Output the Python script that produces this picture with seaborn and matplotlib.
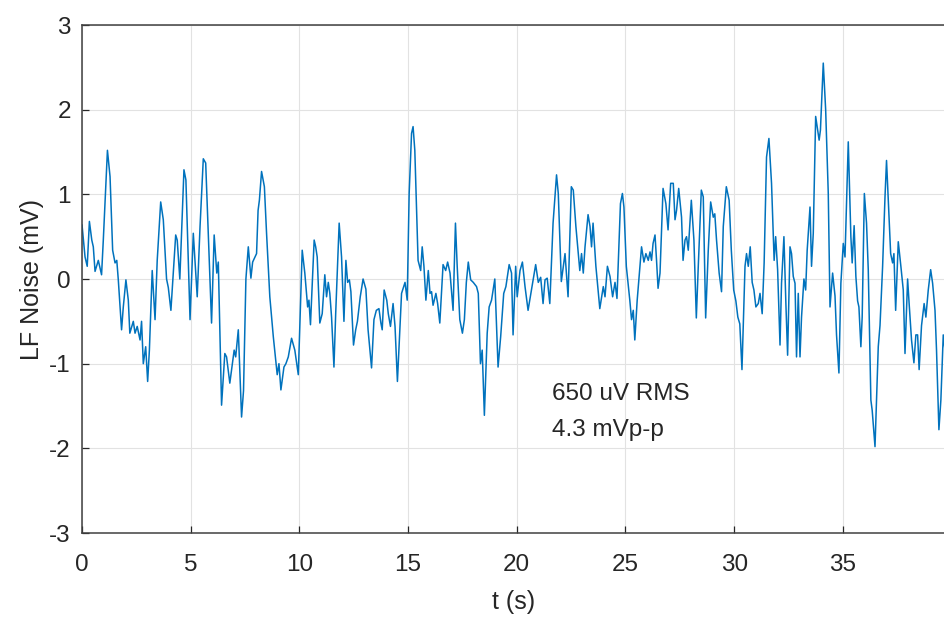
import numpy as np
import pandas as pd
import seaborn as sns
import matplotlib
matplotlib.use("Agg")
import matplotlib.pyplot as plt

# time (s) and low-frequency noise (mV)
t_s = [
    0.00, 0.14, 0.24, 0.34, 0.45, 0.52, 0.60, 0.75, 0.90, 0.98, 1.17, 1.29, 1.41, 1.52, 1.60, 1.67,
    1.82, 1.90, 2.02, 2.13, 2.20, 2.36, 2.44, 2.54, 2.67, 2.74, 2.82, 2.93, 3.02, 3.10, 3.23, 3.36,
    3.46, 3.62, 3.74, 3.89, 3.97, 4.09, 4.31, 4.38, 4.50, 4.69, 4.78, 4.97, 5.12, 5.30, 5.43, 5.58,
    5.69, 5.96, 6.08, 6.20, 6.27, 6.42, 6.57, 6.65, 6.80, 7.00, 7.07, 7.19, 7.34, 7.43, 7.54, 7.65,
    7.77, 7.85, 7.96, 8.03, 8.10, 8.16, 8.26, 8.39, 8.49, 8.64, 8.80, 8.98, 9.06, 9.15, 9.29, 9.38,
    9.49, 9.64, 9.79, 9.95, 10.13, 10.25, 10.38, 10.44, 10.51, 10.68, 10.75, 10.82, 10.94, 11.05,
    11.17, 11.25, 11.33, 11.40, 11.48, 11.59, 11.67, 11.83, 11.94, 12.05, 12.14, 12.22, 12.30,
    12.37, 12.49, 12.59, 12.67, 12.80, 12.93, 13.06, 13.16, 13.32, 13.43, 13.54, 13.66, 13.75,
    13.81, 13.90, 14.02, 14.09, 14.19, 14.31, 14.40, 14.51, 14.70, 14.86, 14.96, 15.05, 15.16,
    15.23, 15.31, 15.46, 15.58, 15.65, 15.73, 15.82, 15.93, 16.01, 16.08, 16.15, 16.28, 16.36,
    16.46, 16.61, 16.73, 16.82, 16.93, 17.07, 17.18, 17.26, 17.38, 17.50, 17.59, 17.68, 17.77,
    17.88, 18.00, 18.15, 18.23, 18.33, 18.41, 18.51, 18.64, 18.73, 18.84, 18.99, 19.14, 19.26,
    19.40, 19.50, 19.65, 19.76, 19.83, 19.95, 20.02, 20.15, 20.26, 20.38, 20.52, 20.68, 20.87,
    20.99, 21.10, 21.21, 21.30, 21.40, 21.52, 21.67, 21.83, 21.91, 22.05, 22.22, 22.36, 22.51,
    22.60, 22.72, 22.90, 22.98, 23.06, 23.14, 23.28, 23.37, 23.44, 23.51, 23.64, 23.82, 23.98,
    24.06, 24.17, 24.29, 24.41, 24.52, 24.61, 24.77, 24.86, 24.93, 25.04, 25.20, 25.28, 25.36,
    25.43, 25.54, 25.67, 25.74, 25.85, 25.94, 26.05, 26.13, 26.20, 26.27, 26.36, 26.43, 26.50,
    26.59, 26.73, 26.86, 26.96, 27.08, 27.20, 27.28, 27.35, 27.45, 27.58, 27.65, 27.74, 27.81,
    27.89, 28.03, 28.15, 28.26, 28.35, 28.49, 28.58, 28.69, 28.81, 28.92, 29.04, 29.11, 29.19,
    29.31, 29.42, 29.50, 29.64, 29.77, 29.87, 29.98, 30.08, 30.17, 30.26, 30.36, 30.50, 30.57,
    30.65, 30.74, 30.83, 30.91, 31.00, 31.11, 31.19, 31.29, 31.38, 31.49, 31.60, 31.72, 31.84,
    31.91, 32.00, 32.11, 32.18, 32.29, 32.38, 32.46, 32.57, 32.64, 32.72, 32.80, 32.87, 32.95,
    33.03, 33.10, 33.21, 33.29, 33.36, 33.49, 33.56, 33.64, 33.75, 33.84, 33.91, 33.97, 34.10,
    34.21, 34.33, 34.41, 34.53, 34.64, 34.71, 34.82, 34.91, 35.02, 35.10, 35.25, 35.37, 35.43,
    35.52, 35.60, 35.68, 35.74, 35.83, 35.89, 35.99, 36.09, 36.17, 36.29, 36.35, 36.48, 36.63,
    36.71, 36.83, 36.94, 37.01, 37.09, 37.20, 37.29, 37.35, 37.43, 37.55, 37.67, 37.78, 37.86,
    37.98, 38.05, 38.16, 38.27, 38.36, 38.44, 38.51, 38.62, 38.74, 38.82, 38.93, 39.04, 39.13,
    39.24, 39.31, 39.42, 39.51, 39.62, 39.70,
]
noise_mv = [
    0.64, 0.26, 0.15, 0.68, 0.46, 0.38, 0.09, 0.22, 0.05, 0.46, 1.52, 1.21, 0.34, 0.19, 0.22, -0.01,
    -0.60, -0.33, -0.01, -0.25, -0.64, -0.50, -0.64, -0.56, -0.72, -0.50, -1.00, -0.80, -1.21, -0.84, 0.10, -0.48,
    0.22, 0.91, 0.70, 0.00, -0.10, -0.37, 0.52, 0.46, 0.00, 1.29, 1.17, -0.48, 0.54, -0.21, 0.62, 1.42,
    1.37, -0.52, 0.52, 0.07, 0.20, -1.49, -0.88, -0.92, -1.23, -0.84, -0.92, -0.60, -1.63, -1.32, 0.00, 0.38,
    0.01, 0.20, 0.26, 0.30, 0.81, 0.93, 1.27, 1.09, 0.54, -0.21, -0.68, -1.13, -1.00, -1.31, -1.04, -1.00,
    -0.92, -0.70, -0.84, -1.13, 0.34, 0.07, -0.33, -0.25, -0.54, 0.46, 0.38, 0.26, -0.52, -0.41,
    0.05, -0.21, -0.04, -0.17, -0.45, -1.04, -0.41, 0.66, 0.26, -0.50, 0.22, -0.04, -0.01,
    -0.15, -0.78, -0.60, -0.50, -0.21, 0.00, -0.12, -0.60, -1.05, -0.48, -0.37, -0.35, -0.52,
    -0.60, -0.13, -0.25, -0.41, -0.56, -0.29, -0.56, -1.21, -0.17, -0.04, -0.25, 1.01, 1.72,
    1.80, 1.52, 0.22, 0.10, 0.38, 0.15, -0.25, 0.10, -0.17, -0.15, -0.31, -0.17, -0.29,
    -0.52, 0.17, 0.10, 0.20, 0.07, -0.37, 0.66, 0.15, -0.48, -0.64, -0.48, -0.04, 0.20,
    -0.01, -0.04, -0.09, -0.17, -1.00, -0.84, -1.61, -0.64, -0.33, -0.25, 0.00, -1.04, -0.68,
    -0.17, -0.09, 0.17, 0.07, -0.66, 0.15, -0.21, 0.10, 0.20, -0.09, -0.37, -0.12, 0.17,
    -0.04, 0.02, -0.29, -0.01, 0.01, -0.29, 0.66, 1.23, 1.01, -0.03, 0.30, -0.21, 1.09,
    1.05, 0.62, 0.10, 0.30, 0.07, 0.38, 0.76, 0.62, 0.38, 0.66, 0.15, -0.35, -0.09,
    -0.21, 0.15, 0.03, -0.21, -0.04, -0.23, 0.89, 1.01, 0.85, 0.15, -0.25, -0.48, -0.37,
    -0.72, -0.25, 0.15, 0.38, 0.20, 0.30, 0.22, 0.32, 0.22, 0.42, 0.52, 0.22, -0.11,
    0.07, 1.07, 0.89, 0.58, 1.13, 1.13, 0.70, 0.81, 1.07, 0.73, 0.22, 0.46, 0.50,
    0.34, 0.93, 0.46, -0.46, 0.15, 1.05, 0.97, -0.46, 0.34, 0.91, 0.73, 0.77, 0.46,
    0.07, -0.15, 0.62, 1.09, 0.93, 0.34, -0.13, -0.26, -0.45, -0.53, -1.07, 0.15, 0.30,
    0.15, 0.38, -0.04, -0.13, -0.33, -0.29, -0.17, -0.41, 0.19, 1.44, 1.66, 1.13, 0.22,
    0.50, 0.11, -0.78, -0.05, 0.50, -0.29, -0.90, 0.38, 0.30, 0.03, -0.05, -0.92, -0.17,
    -0.92, -0.45, 0.00, -0.13, 0.34, 0.85, 0.15, 0.54, 1.92, 1.76, 1.64, 1.76, 2.55,
    2.00, 1.01, -0.33, 0.07, -0.20, -0.66, -1.11, -0.05, 0.42, 0.26, 1.62, 0.50, 0.19,
    0.63, 0.03, -0.26, -0.33, -0.80, -0.45, 1.01, 0.66, 0.11, -1.43, -1.55, -1.98, -0.80,
    -0.55, 0.15, 0.97, 1.40, 0.93, 0.30, 0.19, 0.30, -0.37, 0.44, 0.15, -0.13, -0.88,
    0.00, -0.29, -0.72, -0.99, -0.66, -0.66, -1.07, -0.55, -0.29, -0.45, -0.13, 0.11, -0.05,
    -0.37, -0.84, -1.78, -1.43, -0.66, -0.84,
]

x_ticks = [0, 5, 10, 15, 20, 25, 30, 35]
y_ticks = [-3, -2, -1, 0, 1, 2, 3]
note_lines = ["650 uV RMS", "4.3 mVp-p"]

df = pd.DataFrame({"t (s)": t_s, "LF Noise (mV)": noise_mv})

sns.set_theme(style="whitegrid")
plt.rcParams["font.family"] = ["Liberation Sans", "DejaVu Sans"]
plt.rcParams.update({
    "axes.unicode_minus": False,
    "axes.edgecolor": "#404040",
    "axes.linewidth": 1.1,
    "grid.color": "#e2e2e2",
    "grid.linewidth": 0.8,
    "xtick.color": "#262626",
    "ytick.color": "#262626",
    "text.color": "#262626",
    "axes.labelcolor": "#262626",
})

fig = plt.figure(figsize=(9.45, 6.17), dpi=100)
ax = fig.add_axes([82 / 945, 1 - 533 / 617, 1 - 82 / 945, (533 - 25) / 617])

sns.lineplot(data=df, x="t (s)", y="LF Noise (mV)", ax=ax, color="#0072BD",
             linewidth=1.1, sort=False, estimator=None)

ax.set_xlim(0, 39.7)
ax.set_ylim(-3, 3)
ax.set_xticks(x_ticks)
ax.set_yticks(y_ticks)
ax.tick_params(axis="both", labelsize=17.5, direction="in", length=5, width=0.9,
               left=True, bottom=True)
ax.tick_params(axis="x", pad=15)
ax.tick_params(axis="y", pad=8)
ax.set_xlabel("t (s)", fontsize=18, labelpad=10)
ax.set_ylabel("LF Noise (mV)", fontsize=18, labelpad=4)
ax.spines["right"].set_visible(False)

ax.text(21.6, -1.355, note_lines[0], fontsize=17.5, va="center", ha="left")
ax.text(21.6, -1.78, note_lines[1], fontsize=17.5, va="center", ha="left")

fig.savefig("out.png", dpi=100)
